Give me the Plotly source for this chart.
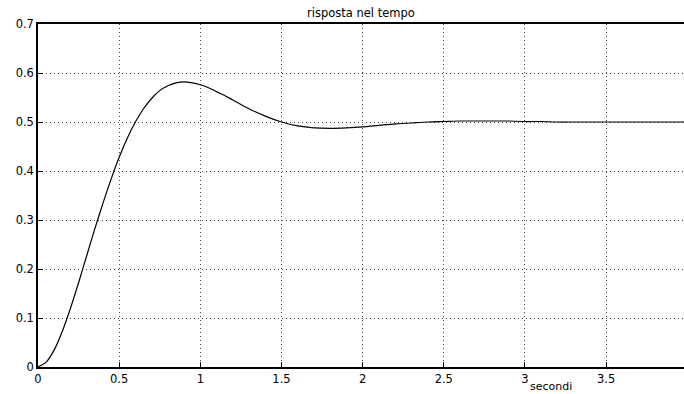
import plotly.graph_objects as go

# step response
t = [0.0, 0.05, 0.1, 0.15, 0.2, 0.25, 0.3, 0.35, 0.4, 0.45, 0.5, 0.55, 0.6, 0.65, 0.7,
     0.75, 0.8, 0.85, 0.9, 0.95, 1.0, 1.05, 1.1, 1.15, 1.2, 1.3, 1.4, 1.5, 1.6, 1.7,
     1.8, 1.9, 2.0, 2.1, 2.2, 2.3, 2.4, 2.5, 2.6, 2.7, 2.8, 2.9, 3.0, 3.1, 3.2, 3.3,
     3.4, 3.5, 3.6, 3.7, 3.8, 3.9, 4.0]
y = [0.0, 0.010, 0.035, 0.073, 0.120, 0.172, 0.227, 0.282, 0.334, 0.383, 0.428, 0.467,
     0.500, 0.527, 0.548, 0.564, 0.574, 0.580, 0.582, 0.580, 0.576, 0.570, 0.562, 0.554,
     0.545, 0.527, 0.512, 0.500, 0.492, 0.488, 0.487, 0.488, 0.490, 0.493, 0.496, 0.498,
     0.500, 0.501, 0.502, 0.502, 0.502, 0.502, 0.501, 0.501, 0.500, 0.500, 0.500, 0.500,
     0.500, 0.500, 0.500, 0.500, 0.500]

x_ticks = [0, 0.5, 1, 1.5, 2, 2.5, 3, 3.5]
x_tick_labels = ["0", "0.5", "1", "1.5", "2", "2.5", "3", "3.5"]
y_ticks = [0, 0.1, 0.2, 0.3, 0.4, 0.5, 0.6, 0.7]
y_tick_labels = ["0", "0.1", "0.2", "0.3", "0.4", "0.5", "0.6", "0.7"]

title_text = "risposta nel tempo"
x_label = "secondi"

fig = go.Figure()
fig.add_trace(go.Scatter(x=t, y=y, mode="lines",
                         line=dict(color="black", width=1.2, shape="spline", smoothing=0.8),
                         hoverinfo="skip", showlegend=False))

font = dict(family="DejaVu Sans, Arial, sans-serif", size=11.5, color="black")

fig.update_layout(
    width=684, height=394,
    margin=dict(l=38, r=0, t=24, b=27),
    paper_bgcolor="white", plot_bgcolor="white",
    font=font,
    showlegend=False,
    xaxis=dict(range=[0, 3.98], tickvals=x_ticks, ticktext=x_tick_labels,
               showline=True, linecolor="black", linewidth=1.5, mirror=True,
               ticks="inside", ticklen=5, tickcolor="black", tickwidth=1,
               showgrid=True, gridcolor="#444", gridwidth=1, griddash="1px,3px",
               zeroline=False, fixedrange=True, tickfont=font),
    yaxis=dict(range=[0, 0.7], tickvals=y_ticks, ticktext=y_tick_labels,
               showline=True, linecolor="black", linewidth=1.5, mirror=False,
               ticks="inside", ticklen=5, tickcolor="black", tickwidth=1,
               showgrid=True, gridcolor="#444", gridwidth=1, griddash="1px,3px",
               zeroline=False, fixedrange=True, tickfont=font),
    annotations=[
        dict(text=title_text, xref="paper", yref="paper", x=0.5, y=1, yshift=2,
             xanchor="center", yanchor="bottom", showarrow=False, font=font),
        dict(text=x_label, xref="x", yref="paper", x=3.16, y=0, yshift=-27,
             xanchor="center", yanchor="bottom", showarrow=False,
             borderpad=0, font=dict(family=font["family"], size=11, color="black")),
    ],
)

fig.write_html("out.html", config={"displayModeBar": False},
               post_script="document.body.style.margin='0';document.body.style.overflow='hidden';")
